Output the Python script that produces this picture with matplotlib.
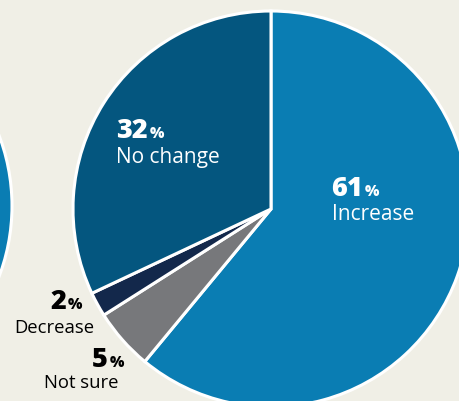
import matplotlib
matplotlib.use("Agg")
import matplotlib.pyplot as plt

# answer shares (percent), clockwise from 12 o'clock
labels = ["Increase", "Not sure", "Decrease", "No change"]
shares = [61, 5, 2, 32]
colors = ["#0a7db3", "#77787b", "#13284b", "#04567f"]

# label text: (number, caption)
nums = ["61", "5", "2", "32"]

bg = "#f0efe6"
H = 402

fig = plt.figure(figsize=(4.6, 4.02), dpi=100, facecolor=bg)
ax = fig.add_axes([0, 0, 1, 1])
ax.set_facecolor(bg)

wp = dict(edgecolor="white", linewidth=2.2)

# neighbouring pie, only its right edge is visible
ax.pie([1], colors=[colors[0]], center=(-187, H - 207), radius=199,
       wedgeprops=wp, startangle=90)

# main pie
ax.pie(shares, colors=colors, center=(271, H - 210), radius=198,
       startangle=90, counterclock=False, wedgeprops=wp)

ax.set_xlim(0, 460)
ax.set_ylim(0, H)
ax.set_aspect("equal")
ax.axis("off")

fam = "Open Sans"

def label(xnum_end, ybase, num, cap, capx, capy, col, capsize):
    ax.text(xnum_end, H - ybase, num, ha="right", va="baseline",
            fontsize=19.5, fontweight="heavy", color=col, family=fam)
    ax.text(xnum_end + 1.5, H - ybase, "%", ha="left", va="baseline",
            fontsize=11, fontweight="heavy", color=col, family=fam)
    ax.text(capx, H - capy, cap, ha="left", va="baseline",
            fontsize=capsize, color=col, family=fam)

label(148, 138, nums[3], labels[3], 116, 163, "white", 15)
label(363, 196, nums[0], labels[0], 332, 220, "white", 15)
label(66, 309, nums[2], labels[2], 14, 333, "black", 13.3)
label(108, 367, nums[1], labels[1], 44, 388, "black", 13.3)

fig.savefig("out.png", dpi=100, facecolor=bg)
